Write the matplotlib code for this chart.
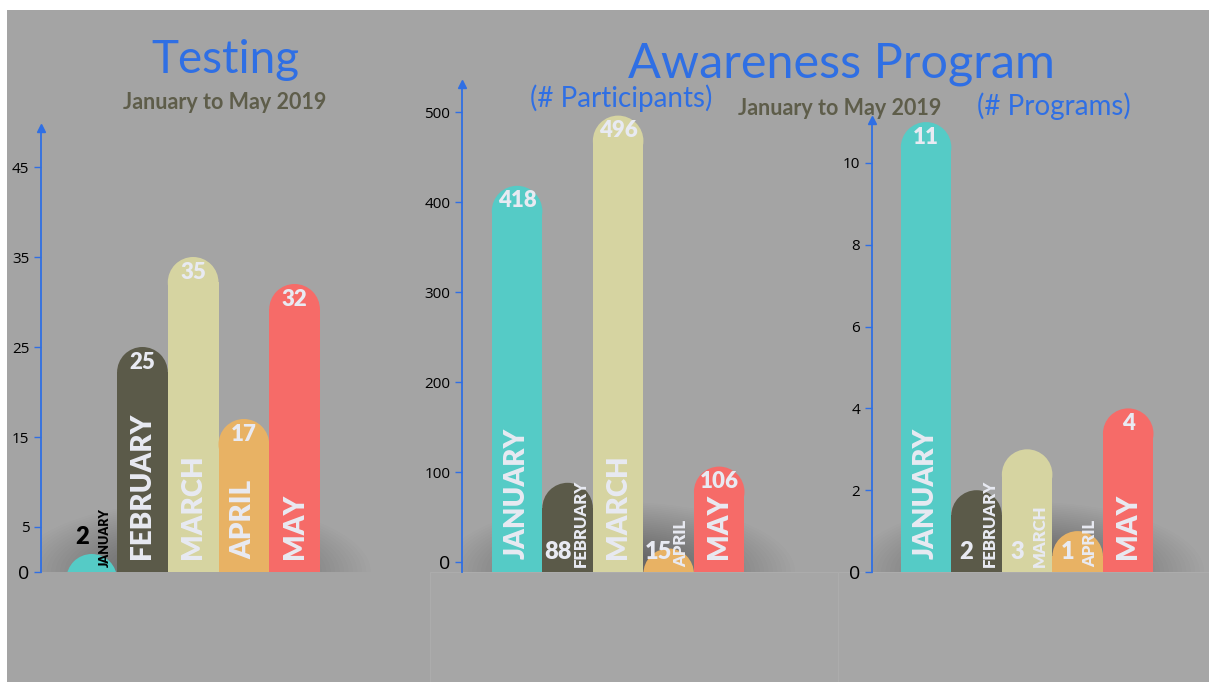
import matplotlib.pyplot as plt
from matplotlib.patches import Rectangle, Ellipse

plt.rcParams["font.family"] = ["Lato", "DejaVu Sans"]

W, H = 1209, 682

months = ["JANUARY", "FEBRUARY", "MARCH", "APRIL", "MAY"]
testing = [2, 25, 35, 17, 32]
participants = [418, 88, 496, 15, 106]
programs = [11, 2, 3, 1, 4]

testing_ticks = [0, 5, 15, 25, 35, 45]
participant_ticks = [0, 100, 200, 300, 400, 500]
program_ticks = [0, 2, 4, 6, 8, 10]

bar_colors = ["#55CBC6", "#5B5A49", "#D6D4A1", "#E8B264", "#F66B68"]
blue = "#2F6FE4"
olive = "#5E5D4A"
label_white = "#E8EAF2"
bg = "#a4a4a4"


def pt(px):
    return px * 72 / 100


fig = plt.figure(figsize=(W / 100, H / 100), dpi=100, facecolor="white")


def fig_rect(x0, y0, x1, y1, **kw):
    fig.add_artist(Rectangle((x0 / W, 1 - y1 / H), (x1 - x0) / W, (y1 - y0) / H,
                             transform=fig.transFigure, zorder=-5, **kw))


fig_rect(7, 10, W, H, facecolor=bg, lw=0)
fig_rect(430, 572, 838, H, facecolor="#a6a6a6", edgecolor="#acacac", lw=0.8)
fig_rect(838, 572, W, H, facecolor="#a6a6a6", edgecolor="#acacac", lw=0.8)


def text(x, y, s, **kw):
    fig.text(x / W, 1 - y / H, s, ha="center", va="baseline", **kw)


def panel(left, top, right, bottom, xlim, ylim, values, ticks, modes):
    ax = fig.add_axes([left / W, 1 - bottom / H, (right - left) / W, (bottom - top) / H])
    ax.set_xlim(xlim)
    ax.set_ylim(ylim)
    ax.patch.set_visible(False)
    for s in ["top", "right", "bottom"]:
        ax.spines[s].set_visible(False)
    ax.spines["left"].set_color(blue)
    ax.spines["left"].set_linewidth(1.3)
    ax.set_xticks([])
    ax.set_yticks(ticks)
    ax.tick_params(axis="y", colors=blue, labelcolor="black", labelsize=11, length=5, width=1)
    ax.get_yticklabels()[0].set_fontsize(14)
    for lab in ax.get_yticklabels():
        lab.set_family("Open Sans")
    ax.plot([0], [1], marker="^", color=blue, ms=6, transform=ax.transAxes, clip_on=False)

    (x0, y0), (x1, y1) = ax.transData.transform([(0, 0), (1, 1)])
    kx, ky = x1 - x0, y1 - y0
    ry = 0.5 * kx / ky
    base = ylim[0]

    # soft shadow at the base
    for k in range(30):
        s = 1 - k * 0.025
        ax.add_patch(Ellipse((2, base), 7.0 * s, 2 * 70 / ky * s, color="black",
                             alpha=0.012, lw=0, zorder=1))

    for i, (v, c, m, mode) in enumerate(zip(values, bar_colors, months, modes)):
        ax.add_patch(Rectangle((i - 0.5, base), 1, max(v - ry - base, 0), color=c, lw=0, zorder=2))
        ax.add_patch(Ellipse((i, v - ry), 1, 2 * ry, color=c, lw=0, zorder=2))
        if mode == "in":
            ax.annotate(m, (i, base), xytext=(0, pt(13)), textcoords="offset points",
                        rotation=90, ha="center", va="bottom", fontsize=20,
                        fontweight="heavy", color=label_white, zorder=3)
            ax.annotate(str(v), (i, v), xytext=(0, pt(-15)), textcoords="offset points",
                        ha="center", va="center", fontsize=16, fontweight="heavy",
                        color=label_white, zorder=3)
        else:
            col = "black" if mode == "outside" else label_white
            dy = 35 if mode == "outside" else 20
            fs = 9 if mode == "outside" else 12
            ax.annotate(m, (i, base), xytext=(pt(13), pt(5)), textcoords="offset points",
                        rotation=90, ha="center", va="bottom", fontsize=fs,
                        fontweight="heavy", color=col, zorder=3, annotation_clip=False)
            ax.annotate(str(v), (i, base), xytext=(pt(-10), pt(dy)), textcoords="offset points",
                        ha="center", va="center", fontsize=17, fontweight="heavy",
                        color=col, zorder=3, annotation_clip=False)
    return ax


panel(41, 128, 396, 572, (-1.0, 6.0), (0, 444 / 9), testing, testing_ticks,
      ["outside", "in", "in", "in", "in"])
panel(462, 84, 795, 572, (-1.09, 5.5), (-10 / 0.9, 478 / 0.9), participants, participant_ticks,
      ["in", "side", "in", "side", "in"])
panel(872, 120, 1204, 572, (-1.07, 5.5), (0, 452 / 40.9), programs, program_ticks,
      ["in", "side", "side", "side", "in"])

text(225, 73, "Testing", fontsize=33, color=blue)
text(225, 109, "January to May 2019", fontsize=15.5, fontweight="bold", color=olive)
text(841, 78, "Awareness Program", fontsize=35, color=blue)
text(621, 107, "(# Participants)", fontsize=20, color=blue)
text(840, 115, "January to May 2019", fontsize=15.5, fontweight="bold", color=olive)
text(1054, 115, "(# Programs)", fontsize=20, color=blue)

fig.savefig("out.png", dpi=100)
